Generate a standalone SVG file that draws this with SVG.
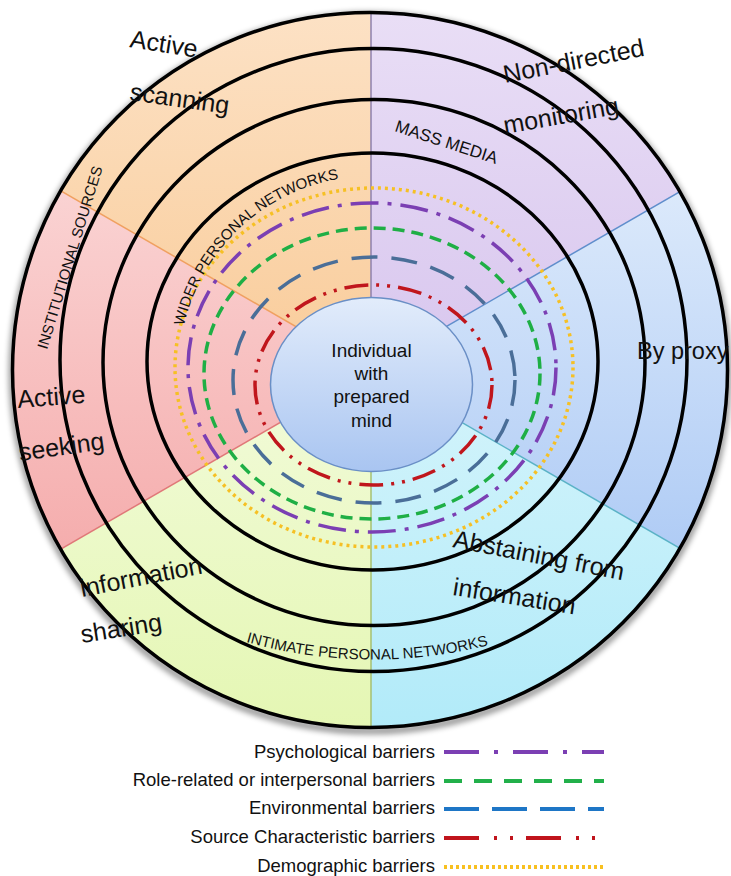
<svg xmlns="http://www.w3.org/2000/svg" width="731" height="876" viewBox="0 0 731 876">
<style>
  .ring { fill: none; stroke: #000; stroke-width: 3.5; }
  .lbl { font-family: "Liberation Sans", Arial, sans-serif; fill: #111; }
  .big { font-size: 25px; }
  .cap { font-size: 15px; }
  .leg { font-family: "Liberation Sans", Arial, sans-serif; font-size: 18.5px; fill: #111; text-anchor: end; }
  .bar { fill: none; stroke-width: 3.5; }
  .psy { stroke: #7B3FB3; stroke-dasharray: 28 9 4 9; }
  .rol { stroke: #1FAF45; stroke-dasharray: 12 7; }
  .env { stroke: #4A6E98; stroke-dasharray: 26 14; }
  .src { stroke: #C0161C; stroke-dasharray: 24 8 3 8 3 8; }
  .dem { stroke: #F6C024; stroke-dasharray: 3 4; }
  .lg { fill: none; stroke-width: 4; }
</style>
<defs>
  <clipPath id="outer"><circle cx="370" cy="370" r="357.5"/></clipPath>
  <linearGradient id="gOr" x1="0" y1="0" x2="0" y2="1"><stop offset="0" stop-color="#FEEAD6"/><stop offset="1" stop-color="#F9CC9A"/></linearGradient>
  <linearGradient id="gPk" x1="0" y1="0" x2="0" y2="1"><stop offset="0" stop-color="#FBDADA"/><stop offset="1" stop-color="#F4A6A6"/></linearGradient>
  <linearGradient id="gGr" x1="0" y1="0" x2="0" y2="1"><stop offset="0" stop-color="#F2FBDA"/><stop offset="1" stop-color="#DFF5A4"/></linearGradient>
  <linearGradient id="gCy" x1="0" y1="0" x2="0" y2="1"><stop offset="0" stop-color="#D4F4FB"/><stop offset="1" stop-color="#A4E7F8"/></linearGradient>
  <linearGradient id="gBl" x1="0" y1="0" x2="0" y2="1"><stop offset="0" stop-color="#E4EFFC"/><stop offset="1" stop-color="#A7C6F4"/></linearGradient>
  <linearGradient id="gPu" x1="0" y1="0" x2="0" y2="1"><stop offset="0" stop-color="#F0E8F9"/><stop offset="1" stop-color="#D8C6EE"/></linearGradient>
  <linearGradient id="gCe" x1="0" y1="0" x2="0" y2="1"><stop offset="0" stop-color="#E2ECFB"/><stop offset="1" stop-color="#A9C5F1"/></linearGradient>
  <filter id="sh" x="-10%" y="-10%" width="120%" height="120%"><feGaussianBlur stdDeviation="3"/></filter>
  <path id="widerPath" d="M 184 326 A 192 192 0 0 1 372 176"/>
  <path id="intPath" d="M 246 642 A 469 469 0 0 0 500 642"/>
</defs>

<circle cx="370" cy="373" r="358" fill="none" stroke="#000" stroke-width="5" opacity="0.55" filter="url(#sh)"/>

<g id="sectors" clip-path="url(#outer)">
  <g id="sector-active-scanning"><path d="M371 370 L371 -130 L-62 120 Z" fill="url(#gOr)"/></g>
  <g id="sector-active-seeking"><path d="M371 370 L-62 120 L-62 620 Z" fill="url(#gPk)"/></g>
  <g id="sector-information-sharing"><path d="M371 370 L-62 620 L371 870 Z" fill="url(#gGr)"/></g>
  <g id="sector-abstaining"><path d="M371 370 L371 870 L804 620 Z" fill="url(#gCy)"/></g>
  <g id="sector-by-proxy"><path d="M371 370 L804 620 L804 120 Z" fill="url(#gBl)"/></g>
  <g id="sector-non-directed"><path d="M371 370 L804 120 L371 -130 Z" fill="url(#gPu)"/></g>
</g>

<g id="connectors" clip-path="url(#outer)" stroke-width="1.5">
  <line x1="371" y1="370" x2="371" y2="-10" stroke="#8E80AC"/>
  <line x1="371" y1="370" x2="-62" y2="120" stroke="#F0A060"/>
  <line x1="371" y1="370" x2="-62" y2="620" stroke="#E07878"/>
  <line x1="371" y1="370" x2="371" y2="760" stroke="#A6C070"/>
  <line x1="371" y1="370" x2="804" y2="620" stroke="#5AB2C6"/>
  <line x1="371" y1="370" x2="804" y2="120" stroke="#5F8ECC"/>
</g>

<g id="rings">
  <circle class="ring" cx="370" cy="370" r="357.5" stroke-width="4"/>
  <ellipse class="ring" cx="373.5" cy="360" rx="313.5" ry="311.5"/>
  <ellipse class="ring" cx="374" cy="362.5" rx="271" ry="263"/>
  <ellipse class="ring" cx="372.5" cy="361.5" rx="225.5" ry="208.5"/>
</g>

<g id="barriers">
  <ellipse class="bar dem" cx="374" cy="367.5" rx="199" ry="179.5"/>
  <ellipse class="bar psy" cx="372" cy="367.5" rx="184" ry="164.5"/>
  <ellipse class="bar rol" cx="372" cy="373.5" rx="168" ry="145.5"/>
  <ellipse class="bar env" cx="374" cy="380" rx="141" ry="123"/>
  <ellipse class="bar src" cx="373.5" cy="385" rx="118.5" ry="100"/>
</g>

<g id="center">
  <ellipse cx="371.5" cy="384.5" rx="101" ry="87" fill="url(#gCe)" stroke="#6A8FC6" stroke-width="1.5"/>
  <g class="lbl" font-size="19" text-anchor="middle">
    <text x="371.5" y="357">Individual</text>
    <text x="371.5" y="380">with</text>
    <text x="371.5" y="403">prepared</text>
    <text x="371.5" y="427">mind</text>
  </g>
</g>

<g id="labels" class="lbl">
  <text class="big" transform="translate(129,47) rotate(9)">Active</text>
  <text class="big" transform="translate(129,100) rotate(8)">scanning</text>
  <text class="big" transform="translate(505,83) rotate(-11)">Non-directed</text>
  <text class="big" transform="translate(505,134) rotate(-10)">monitoring</text>
  <text font-size="17" transform="translate(394,131) rotate(18)">MASS MEDIA</text>
  <text class="cap" transform="translate(47,350) rotate(-73)">INSTITUTIONAL SOURCES</text>
  <text font-size="15"><textPath href="#widerPath">WIDER PERSONAL NETWORKS</textPath></text>
  <text x="637" y="359" font-size="23.5">By proxy</text>
  <text class="big" transform="translate(18,408) rotate(-4.5)">Active</text>
  <text class="big" transform="translate(20,461) rotate(-8)">seeking</text>
  <text class="big" transform="translate(82,597) rotate(-11)">information</text>
  <text class="big" transform="translate(82,643) rotate(-9)">sharing</text>
  <text class="big" transform="translate(452,547) rotate(11)">Abstaining from</text>
  <text class="big" transform="translate(452,595) rotate(9)">information</text>
  <text class="cap"><textPath href="#intPath">INTIMATE PERSONAL NETWORKS</textPath></text>
</g>

<g id="legend">
  <text class="leg" x="435" y="758">Psychological barriers</text>
  <line class="lg" x1="444" y1="752" x2="604" y2="752" stroke="#7B3FB3" stroke-dasharray="35 15 4 15"/>
  <text class="leg" x="435" y="786">Role-related or interpersonal barriers</text>
  <line class="lg" x1="444" y1="781" x2="604" y2="781" stroke="#22B04A" stroke-dasharray="18 12"/>
  <text class="leg" x="435" y="814">Environmental barriers</text>
  <line class="lg" x1="444" y1="809" x2="604" y2="809" stroke="#1E76C6" stroke-dasharray="35 13"/>
  <text class="leg" x="435" y="843">Source Characteristic barriers</text>
  <line class="lg" x1="444" y1="838" x2="604" y2="838" stroke="#C0141C" stroke-dasharray="35 15 3 13 3 13"/>
  <text class="leg" x="435" y="872">Demographic barriers</text>
  <line class="lg" x1="444" y1="867" x2="604" y2="867" stroke="#F8C020" stroke-dasharray="3 3"/>
</g>
</svg>
